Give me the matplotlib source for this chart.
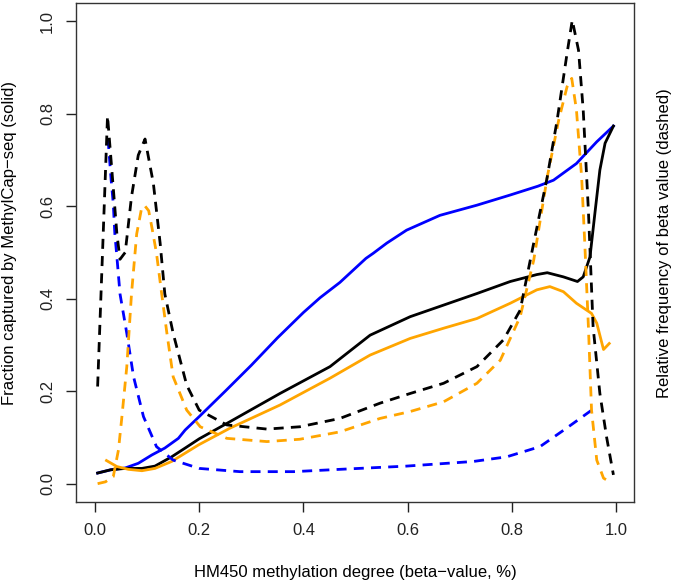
import matplotlib
matplotlib.use("Agg")
import matplotlib.pyplot as plt

plt.rcParams['font.family'] = ['Liberation Sans', 'DejaVu Sans']

# ---- data ----
# Fraction captured by MethylCap-seq (solid)
black_solid_x = [0.005, 0.03, 0.058, 0.09, 0.115, 0.147, 0.173, 0.2, 0.259, 0.355, 0.451, 0.528,
                 0.605, 0.669, 0.733, 0.797, 0.848, 0.868, 0.899, 0.926, 0.937, 0.95, 0.96, 0.969,
                 0.979, 0.995]
black_solid_y = [0.023, 0.03, 0.033, 0.033, 0.038, 0.058, 0.077, 0.097, 0.134, 0.195, 0.253, 0.321,
                 0.361, 0.386, 0.411, 0.437, 0.452, 0.456, 0.447, 0.437, 0.447, 0.49, 0.59, 0.678,
                 0.736, 0.773]

blue_solid_x = [0.005, 0.03, 0.058, 0.083, 0.109, 0.134, 0.16, 0.173, 0.2, 0.25, 0.3, 0.35, 0.4,
                0.432, 0.47, 0.52, 0.534, 0.56, 0.598, 0.662, 0.733, 0.797, 0.85, 0.88, 0.924,
                0.963, 0.995]
blue_solid_y = [0.023, 0.03, 0.034, 0.044, 0.062, 0.077, 0.098, 0.116, 0.145, 0.2, 0.256, 0.315,
                0.37, 0.402, 0.435, 0.487, 0.498, 0.52, 0.548, 0.58, 0.602, 0.624, 0.643, 0.656,
                0.692, 0.739, 0.773]

orange_solid_x = [0.022, 0.042, 0.064, 0.09, 0.115, 0.147, 0.173, 0.199, 0.259, 0.355, 0.451,
                  0.528, 0.605, 0.669, 0.733, 0.797, 0.848, 0.873, 0.899, 0.924, 0.953, 0.963,
                  0.976, 0.987]
orange_solid_y = [0.05, 0.037, 0.031, 0.028, 0.033, 0.048, 0.066, 0.084, 0.12, 0.17, 0.228,
                  0.278, 0.314, 0.336, 0.357, 0.39, 0.419, 0.426, 0.415, 0.39, 0.368, 0.347,
                  0.29, 0.303]

# Relative frequency of beta value (dashed)
black_dash_x = [0.005, 0.024, 0.035, 0.042, 0.048, 0.058, 0.07, 0.083, 0.096, 0.112, 0.125,
                0.134, 0.15, 0.176, 0.2, 0.253, 0.33, 0.393, 0.47, 0.547, 0.605, 0.669, 0.733,
                0.784, 0.816, 0.842, 0.868, 0.887, 0.906, 0.916, 0.928, 0.937, 0.947, 0.956,
                0.969, 0.982, 0.995]
black_dash_y = [0.21, 0.795, 0.64, 0.54, 0.485, 0.5, 0.62, 0.71, 0.745, 0.649, 0.52, 0.41, 0.325,
                0.213, 0.159, 0.127, 0.118, 0.123, 0.141, 0.174, 0.195, 0.217, 0.253, 0.311,
                0.375, 0.52, 0.663, 0.786, 0.93, 1.002, 0.937, 0.808, 0.59, 0.339, 0.195, 0.10,
                0.019]

orange_dash_x = [0.005, 0.02, 0.035, 0.045, 0.051, 0.061, 0.07, 0.08, 0.09, 0.096, 0.103, 0.109,
                 0.118, 0.128, 0.138, 0.15, 0.176, 0.202, 0.253, 0.33, 0.393, 0.47, 0.547, 0.605,
                 0.669, 0.733, 0.778, 0.816, 0.842, 0.868, 0.89, 0.906, 0.915, 0.924, 0.934,
                 0.94, 0.947, 0.953, 0.963, 0.976, 0.992]
orange_dash_y = [0.0, 0.004, 0.015, 0.073, 0.138, 0.253, 0.41, 0.54, 0.599, 0.60, 0.59, 0.555,
                 0.498, 0.41, 0.325, 0.231, 0.159, 0.123, 0.098, 0.091, 0.096, 0.112, 0.141,
                 0.156, 0.177, 0.217, 0.267, 0.361, 0.483, 0.663, 0.786, 0.858, 0.876, 0.808,
                 0.663, 0.52, 0.339, 0.159, 0.051, 0.012, 0.001]

blue_dash_x = [0.025, 0.031, 0.035, 0.038, 0.042, 0.048, 0.061, 0.074, 0.093, 0.118, 0.15, 0.2,
               0.278, 0.381, 0.47, 0.598, 0.726, 0.79, 0.854, 0.905, 0.957]
blue_dash_y = [0.745, 0.656, 0.606, 0.541, 0.49, 0.41, 0.325, 0.231, 0.145, 0.08, 0.051, 0.033,
               0.026, 0.026, 0.031, 0.038, 0.048, 0.058, 0.08, 0.12, 0.162]

x_ticks = [0.0, 0.2, 0.4, 0.6, 0.8, 1.0]
y_ticks = [0.0, 0.2, 0.4, 0.6, 0.8, 1.0]
tick_labels = ["0.0", "0.2", "0.4", "0.6", "0.8", "1.0"]

BLUE = "#0000FF"
ORANGE = "#FFA500"
BLACK = "#000000"

W, H = 675, 582
fig = plt.figure(figsize=(W / 100, H / 100), dpi=100)
ax = fig.add_axes([76 / W, (H - 502) / H, (634 - 76) / W, (502 - 3) / H])

lw = 2.0
dash = (3.6, 2.6)
ax.plot(blue_solid_x, blue_solid_y, color=BLUE, lw=lw)
ax.plot(black_solid_x, black_solid_y, color=BLACK, lw=lw)
ax.plot(orange_solid_x, orange_solid_y, color=ORANGE, lw=lw)
ax.plot(blue_dash_x, blue_dash_y, color=BLUE, lw=lw, dashes=dash)
ax.plot(orange_dash_x, orange_dash_y, color=ORANGE, lw=lw, dashes=dash)
ax.plot(black_dash_x, black_dash_y, color=BLACK, lw=lw, dashes=dash)

ax.set_xlim(-0.0365, 1.0345)
ax.set_ylim(-0.0396, 1.039)
ax.set_xticks(x_ticks)
ax.set_xticklabels(tick_labels)
ax.set_yticks(y_ticks)
ax.set_yticklabels(tick_labels, rotation=90, va='center')
ax.tick_params(length=7, width=1, pad=8, labelsize=12, colors='#222222')
for s in ax.spines.values():
    s.set_linewidth(1.0)
    s.set_color('#333333')

fig.text(355 / W, 1 - 572 / H, "HM450 methylation degree (beta\u2212value, %)",
         ha='center', va='center', fontsize=12)
fig.text(10 / W, 1 - 243 / H, "Fraction captured by MethylCap\u2212seq (solid)",
         ha='center', va='center', rotation=90, fontsize=12)
fig.text(664 / W, 1 - 243 / H, "Relative frequency of beta value (dashed)",
         ha='center', va='center', rotation=90, fontsize=12)

fig.savefig("out.png", dpi=100)
